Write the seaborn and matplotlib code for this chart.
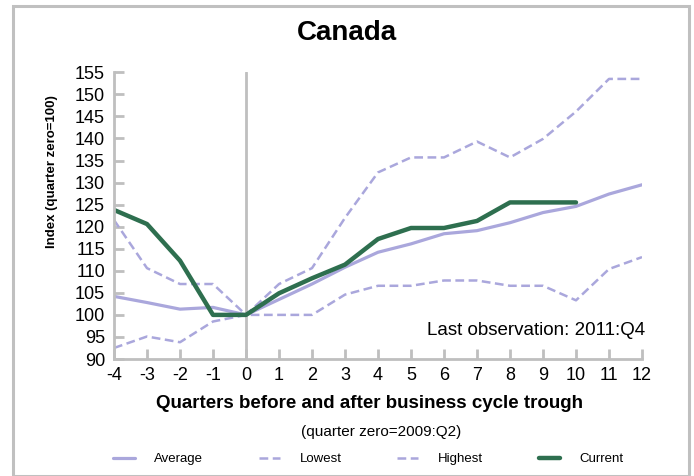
import seaborn as sns
import matplotlib.pyplot as plt
import pandas as pd
from matplotlib.patches import Rectangle

# values (index, quarter zero = 100)
quarters = list(range(-4, 13))
average = [104.2, 102.8, 101.3, 101.7, 100.0, 103.5, 107.0, 110.8, 114.2,
           116.1, 118.4, 119.1, 120.9, 123.2, 124.6, 127.4, 129.5]
lowest = [92.5, 95.1, 93.8, 98.5, 100.0, 100.0, 100.0, 104.6, 106.6,
          106.6, 107.8, 107.8, 106.6, 106.6, 103.3, 110.4, 113.1]
highest = [121.5, 110.6, 107.0, 107.0, 100.0, 107.0, 110.6, 122.0, 132.3,
           135.7, 135.7, 139.3, 135.7, 139.9, 146.1, 153.5, 153.5]
current = [123.8, 120.6, 112.3, 100.0, 100.0, 104.9, 108.3, 111.4, 117.2,
           119.7, 119.7, 121.3, 125.5, 125.5, 125.5]

y_ticks = list(range(90, 160, 5))

lav = "#aaa7dc"
green = "#2e6f4f"
grey = "#bfbfbf"

sns.set_theme(style="white")
plt.rcParams["font.family"] = ["Liberation Sans", "DejaVu Sans"]
plt.rcParams["lines.dashed_pattern"] = [3.5, 1.8]
plt.rcParams["axes.unicode_minus"] = False
plt.rcParams["text.color"] = "black"

df = pd.DataFrame({"quarter": quarters, "Average": average,
                   "Lowest": lowest, "Highest": highest})
cur = pd.DataFrame({"quarter": quarters[:len(current)], "Current": current})

fig = plt.figure(figsize=(6.94, 4.76), dpi=100)
ax = fig.add_axes([114 / 694, 1 - 359 / 476, 528 / 694, (359 - 72.3) / 476])

ax.axvline(0, color=grey, lw=2, zorder=1)
sns.lineplot(data=df, x="quarter", y="Average", ax=ax, color=lav, lw=2.3, label="Average")
sns.lineplot(data=df, x="quarter", y="Lowest", ax=ax, color=lav, lw=1.8, linestyle="--", label="Lowest")
sns.lineplot(data=df, x="quarter", y="Highest", ax=ax, color=lav, lw=1.8, linestyle="--", label="Highest")
sns.lineplot(data=cur, x="quarter", y="Current", ax=ax, color=green, lw=3.2, label="Current")

ax.set_xlim(-4, 12)
ax.set_ylim(90, 155)
ax.set_xticks(quarters)
ax.set_yticks(y_ticks)
ax.set_xlabel("")
ax.set_ylabel("")
for s in ["top", "right"]:
    ax.spines[s].set_visible(False)
for s in ["left", "bottom"]:
    ax.spines[s].set_color(grey)
    ax.spines[s].set_linewidth(2)
ax.tick_params(direction="in", length=7, width=2, color=grey, labelsize=13,
               bottom=True, left=True, labelcolor="black")
ax.tick_params(axis="x", pad=5.5)
ax.tick_params(axis="y", pad=6.5)

ax.text(1.006, 0.101, "Last observation: 2011:Q4", transform=ax.transAxes,
        ha="right", va="center", fontsize=13.5)

handles, labels = ax.get_legend_handles_labels()
ax.get_legend().remove()
fig.legend(handles, labels, loc="center", bbox_to_anchor=(368.5 / 694, 1 - 459 / 476),
           ncol=4, frameon=False, fontsize=9.5, handlelength=1.6, handletextpad=1.5,
           columnspacing=4.2)

fig.text(0.5, 1 - 33 / 476, "Canada", ha="center", va="center", fontsize=20, fontweight="bold")
fig.text(52 / 694, 1 - 172 / 476, "Index (quarter zero=100)", rotation=90,
         ha="center", va="center", fontsize=9.5, fontweight="bold")
fig.text(370 / 694, 1 - 404 / 476, "Quarters before and after business cycle trough",
         ha="center", va="center", fontsize=13.5, fontweight="bold")
fig.text(381 / 694, 1 - 432 / 476, "(quarter zero=2009:Q2)",
         ha="center", va="center", fontsize=11)

fig.patches.append(Rectangle((13 / 694, 0.5 / 476), 676 / 694, 470 / 476,
                             transform=fig.transFigure, fill=False, ec="#c0c0c0", lw=2.2))

fig.savefig("out.png", dpi=100)
